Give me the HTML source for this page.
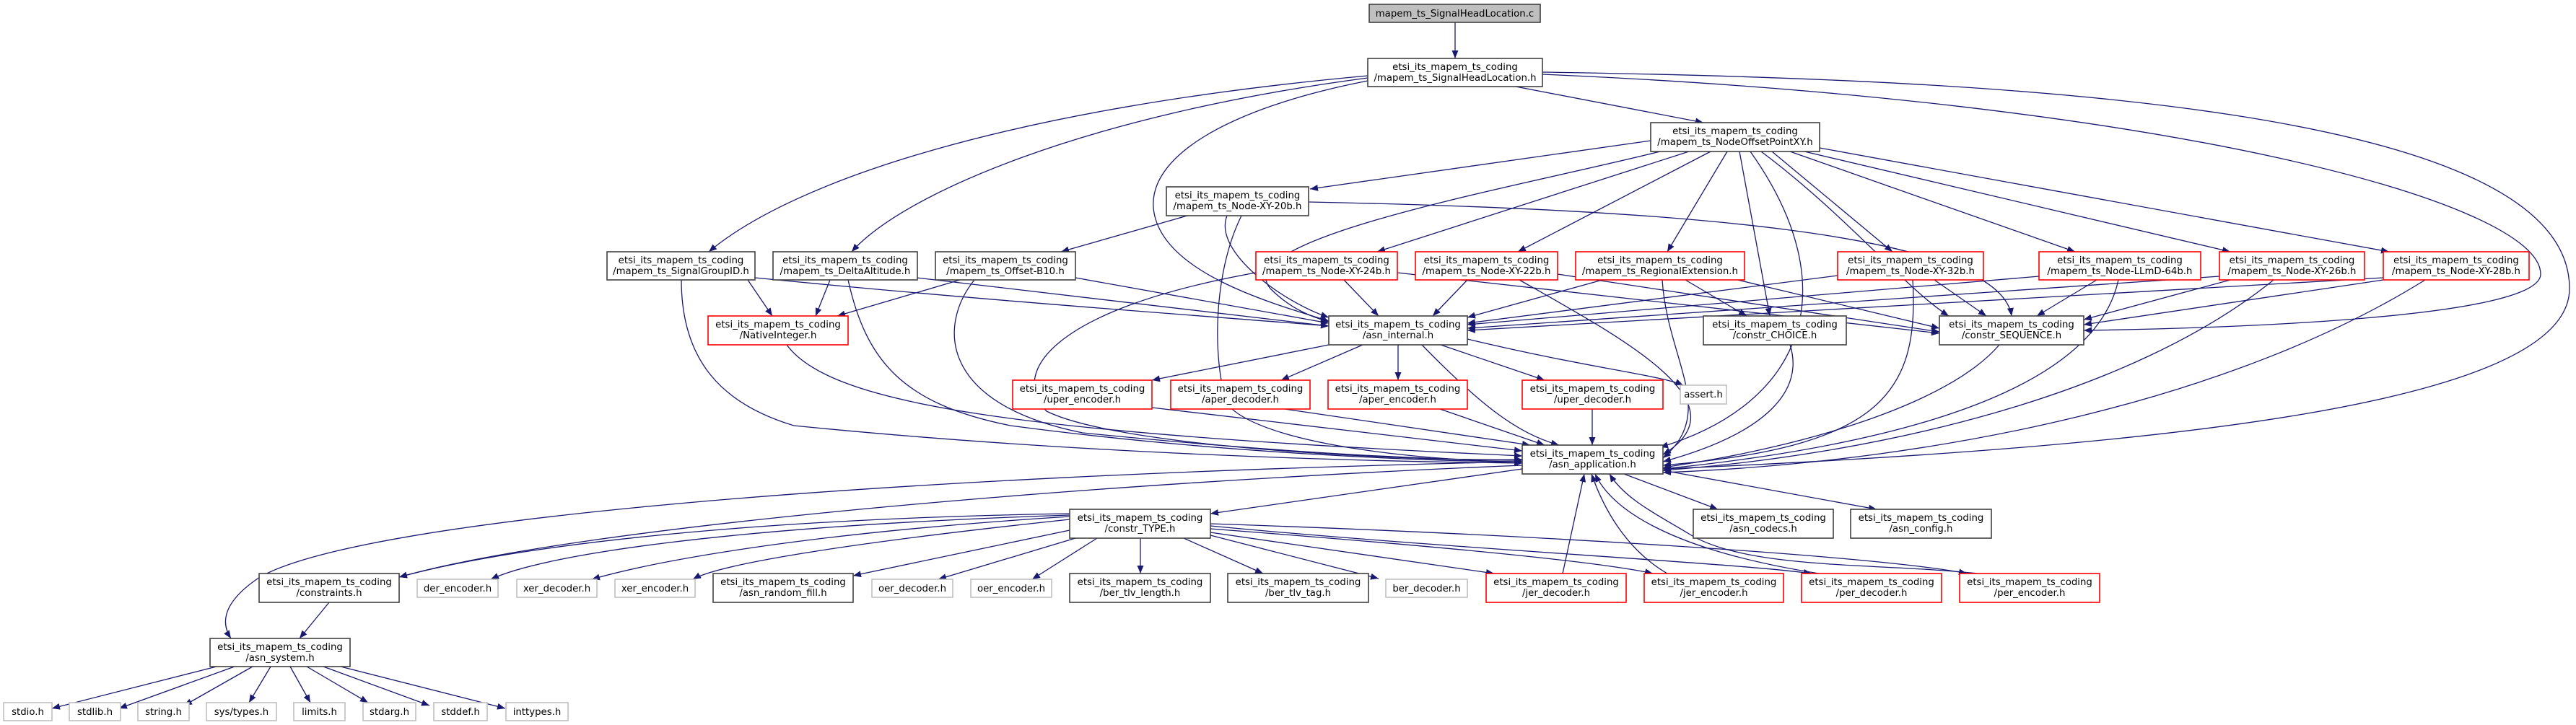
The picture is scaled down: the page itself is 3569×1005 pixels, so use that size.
<!DOCTYPE html>
<html><head><meta charset="utf-8"><style>
html,body{margin:0;padding:0;background:#fff;}
svg{display:block;}
text{font-family:"DejaVu Sans","Liberation Sans",sans-serif;font-size:13.3px;text-anchor:middle;fill:#000;}
.e path{fill:none;stroke:#191970;stroke-width:1.3;}
.b{fill:#fff;stroke:#404040;stroke-width:1.6;}
.r{fill:#fff;stroke:#ff0000;stroke-width:1.6;}
.g{fill:#fff;stroke:#bfbfbf;stroke-width:1.6;}
</style></head><body>
<svg width="3569" height="1005" viewBox="0 0 3569 1005" xmlns="http://www.w3.org/2000/svg">
<defs><marker id="a" markerWidth="12" markerHeight="10" refX="11" refY="4.5" orient="auto" markerUnits="userSpaceOnUse"><path d="M0,0 L11,4.5 L0,9 z" fill="#191970"/></marker></defs>
<g class="e" marker-end="url(#a)">
<path d="M2016,31 L2016,81" marker-end="url(#a)"/>
<path d="M2100,120 L2360,170" marker-end="url(#a)"/>
<path d="M1895,105 C1400,150 1100,250 982,349" marker-end="url(#a)"/>
<path d="M1895,108 C1500,160 1250,270 1180,349" marker-end="url(#a)"/>
<path d="M1895,112 C1700,150 1580,220 1600,300 C1620,380 1760,420 1841,445" marker-end="url(#a)"/>
<path d="M2137,100 C2800,110 3560,150 3560,400 C3560,560 3000,620 2304,650" marker-end="url(#a)"/>
<path d="M2137,103 C3000,140 3520,280 3520,380 C3520,440 3100,455 2887,458" marker-end="url(#a)"/>
<path d="M2287,195 L1815,262" marker-end="url(#a)"/>
<path d="M2300,210 C2100,260 1700,330 1760,400 C1790,430 1820,440 1841,446" marker-end="url(#a)"/>
<path d="M2340,210 L1908,349" marker-end="url(#a)"/>
<path d="M2370,210 L2103,349" marker-end="url(#a)"/>
<path d="M2393,210 L2310,349" marker-end="url(#a)"/>
<path d="M2410,210 L2452,438" marker-end="url(#a)"/>
<path d="M2425,210 C2560,400 2500,560 2300,620" marker-end="url(#a)"/>
<path d="M2440,210 C2560,300 2640,400 2700,438" marker-end="url(#a)"/>
<path d="M2455,210 L2622,349" marker-end="url(#a)"/>
<path d="M2480,210 L2875,349" marker-end="url(#a)"/>
<path d="M2500,210 L3090,349" marker-end="url(#a)"/>
<path d="M2521,205 L3310,349" marker-end="url(#a)"/>
<path d="M1645,299 L1470,349" marker-end="url(#a)"/>
<path d="M1700,299 C1680,350 1780,420 1841,440" marker-end="url(#a)"/>
<path d="M1720,299 C1680,380 1680,500 1700,560 C1750,620 2000,640 2109,640" marker-end="url(#a)"/>
<path d="M1813,280 C2300,290 2770,320 2787,438" marker-end="url(#a)"/>
<path d="M1036,388 L1070,438" marker-end="url(#a)"/>
<path d="M1046,385 C1400,420 1700,440 1841,452" marker-end="url(#a)"/>
<path d="M944,388 C944,500 1000,560 1100,590 C1500,630 1900,640 2109,642" marker-end="url(#a)"/>
<path d="M1150,388 L1130,438" marker-end="url(#a)"/>
<path d="M1270,385 L1841,452" marker-end="url(#a)"/>
<path d="M1175,388 C1200,500 1250,560 1400,590 C1700,630 2000,640 2109,640" marker-end="url(#a)"/>
<path d="M1330,388 L1160,438" marker-end="url(#a)"/>
<path d="M1490,385 L1841,448" marker-end="url(#a)"/>
<path d="M1350,388 C1300,450 1300,560 1500,600 C1800,630 2000,638 2109,638" marker-end="url(#a)"/>
<path d="M1090,478 C1150,560 1400,600 2109,632" marker-end="url(#a)"/>
<path d="M1862,388 L1910,438" marker-end="url(#a)"/>
<path d="M1936,378 L2687,462" marker-end="url(#a)"/>
<path d="M1740,378 C1450,430 1400,520 1450,570 C1550,620 1950,640 2109,637" marker-end="url(#a)"/>
<path d="M2033,388 L1985,438" marker-end="url(#a)"/>
<path d="M2158,380 L2687,460" marker-end="url(#a)"/>
<path d="M2105,388 C2250,470 2420,560 2304,630" marker-end="url(#a)"/>
<path d="M2220,388 L2033,440" marker-end="url(#a)"/>
<path d="M2335,388 L2420,438" marker-end="url(#a)"/>
<path d="M2395,385 L2687,455" marker-end="url(#a)"/>
<path d="M2303,388 C2310,500 2380,570 2304,635" marker-end="url(#a)"/>
<path d="M2546,382 L2033,448" marker-end="url(#a)"/>
<path d="M2680,388 L2752,438" marker-end="url(#a)"/>
<path d="M2650,388 C2660,550 2600,620 2304,645" marker-end="url(#a)"/>
<path d="M2825,383 L2033,450" marker-end="url(#a)"/>
<path d="M2905,388 L2822,438" marker-end="url(#a)"/>
<path d="M2935,388 C2900,550 2600,620 2304,650" marker-end="url(#a)"/>
<path d="M3075,383 L2033,455" marker-end="url(#a)"/>
<path d="M3090,388 L2887,443" marker-end="url(#a)"/>
<path d="M3150,388 C2950,550 2600,630 2304,652" marker-end="url(#a)"/>
<path d="M3302,385 L2033,458" marker-end="url(#a)"/>
<path d="M3302,388 L2887,450" marker-end="url(#a)"/>
<path d="M3360,388 C3100,550 2700,640 2304,655" marker-end="url(#a)"/>
<path d="M2480,478 C2500,540 2450,600 2304,640" marker-end="url(#a)"/>
<path d="M2770,478 C2700,560 2500,620 2304,648" marker-end="url(#a)"/>
<path d="M1841,478 L1596,527" marker-end="url(#a)"/>
<path d="M1888,478 L1775,527" marker-end="url(#a)"/>
<path d="M1937,478 L1937,527" marker-end="url(#a)"/>
<path d="M1996,478 L2140,527" marker-end="url(#a)"/>
<path d="M2033,470 C2200,510 2300,520 2332,534" marker-end="url(#a)"/>
<path d="M1970,478 C2050,560 2100,600 2160,617" marker-end="url(#a)"/>
<path d="M1596,565 L2109,625" marker-end="url(#a)"/>
<path d="M1780,567 L2120,617" marker-end="url(#a)"/>
<path d="M1995,567 L2140,617" marker-end="url(#a)"/>
<path d="M2206,567 L2206,617" marker-end="url(#a)"/>
<path d="M2109,650 L1677,712" marker-end="url(#a)"/>
<path d="M2250,657 L2380,706" marker-end="url(#a)"/>
<path d="M2304,652 L2600,706" marker-end="url(#a)"/>
<path d="M2109,640 C1200,660 500,720 360,800 C300,840 310,870 320,885" marker-end="url(#a)"/>
<path d="M2109,645 C1500,670 800,730 553,800" marker-end="url(#a)"/>
<path d="M1482,712 C1000,720 700,760 553,800" marker-end="url(#a)"/>
<path d="M1482,714 C1000,730 750,770 680,803" marker-end="url(#a)"/>
<path d="M1482,716 C1100,740 900,780 820,803" marker-end="url(#a)"/>
<path d="M1482,720 C1200,750 1000,780 960,803" marker-end="url(#a)"/>
<path d="M1482,735 L1182,798" marker-end="url(#a)"/>
<path d="M1490,746 L1300,803" marker-end="url(#a)"/>
<path d="M1520,746 L1430,803" marker-end="url(#a)"/>
<path d="M1580,746 L1580,795" marker-end="url(#a)"/>
<path d="M1640,746 L1750,795" marker-end="url(#a)"/>
<path d="M1677,742 L1910,802" marker-end="url(#a)"/>
<path d="M1677,738 L2070,795" marker-end="url(#a)"/>
<path d="M1677,733 C1900,750 2200,775 2290,795" marker-end="url(#a)"/>
<path d="M1677,729 C2000,760 2400,780 2510,795" marker-end="url(#a)"/>
<path d="M1677,726 C2100,740 2600,770 2725,795" marker-end="url(#a)"/>
<path d="M2165,795 L2195,657" marker-end="url(#a)"/>
<path d="M2310,795 C2250,760 2220,700 2205,657" marker-end="url(#a)"/>
<path d="M2520,795 C2300,760 2230,700 2210,657" marker-end="url(#a)"/>
<path d="M2740,795 C2600,780 2420,790 2340,740 C2290,710 2250,690 2230,657" marker-end="url(#a)"/>
<path d="M456,835 L415,885" marker-end="url(#a)"/>
<path d="M300,924 L72,982" marker-end="url(#a)"/>
<path d="M325,924 L165,982" marker-end="url(#a)"/>
<path d="M350,924 L255,978" marker-end="url(#a)"/>
<path d="M375,924 L345,974" marker-end="url(#a)"/>
<path d="M402,924 L430,974" marker-end="url(#a)"/>
<path d="M425,924 L510,974" marker-end="url(#a)"/>
<path d="M448,924 L595,978" marker-end="url(#a)"/>
<path d="M472,924 L700,982" marker-end="url(#a)"/>
</g>
<g>
<rect x="1897" y="6" width="237" height="25" fill="#bfbfbf" stroke="#404040" stroke-width="1.6"/><text x="2015.5" y="23">mapem_ts_SignalHeadLocation.c</text>
<rect class="b" x="1895" y="81" width="242" height="39"/><text x="2016" y="97">etsi_its_mapem_ts_coding</text><text x="2016" y="112">/mapem_ts_SignalHeadLocation.h</text>
<rect class="b" x="2287" y="170" width="234" height="40"/><text x="2404" y="186">etsi_its_mapem_ts_coding</text><text x="2404" y="201">/mapem_ts_NodeOffsetPointXY.h</text>
<rect class="b" x="1616" y="259" width="197" height="40"/><text x="1714.5" y="275">etsi_its_mapem_ts_coding</text><text x="1714.5" y="290">/mapem_ts_Node-XY-20b.h</text>
<rect class="b" x="841" y="349" width="205" height="39"/><text x="943.5" y="365">etsi_its_mapem_ts_coding</text><text x="943.5" y="380">/mapem_ts_SignalGroupID.h</text>
<rect class="b" x="1071" y="349" width="200" height="39"/><text x="1171" y="365">etsi_its_mapem_ts_coding</text><text x="1171" y="380">/mapem_ts_DeltaAltitude.h</text>
<rect class="b" x="1296" y="349" width="194" height="39"/><text x="1393" y="365">etsi_its_mapem_ts_coding</text><text x="1393" y="380">/mapem_ts_Offset-B10.h</text>
<rect class="r" x="1740" y="349" width="196" height="39"/><text x="1838" y="365">etsi_its_mapem_ts_coding</text><text x="1838" y="380">/mapem_ts_Node-XY-24b.h</text>
<rect class="r" x="1961" y="349" width="197" height="39"/><text x="2059.5" y="365">etsi_its_mapem_ts_coding</text><text x="2059.5" y="380">/mapem_ts_Node-XY-22b.h</text>
<rect class="r" x="2183" y="349" width="234" height="39"/><text x="2300" y="365">etsi_its_mapem_ts_coding</text><text x="2300" y="380">/mapem_ts_RegionalExtension.h</text>
<rect class="r" x="2546" y="349" width="202" height="39"/><text x="2647" y="365">etsi_its_mapem_ts_coding</text><text x="2647" y="380">/mapem_ts_Node-XY-32b.h</text>
<rect class="r" x="2825" y="349" width="224" height="39"/><text x="2937" y="365">etsi_its_mapem_ts_coding</text><text x="2937" y="380">/mapem_ts_Node-LLmD-64b.h</text>
<rect class="r" x="3075" y="349" width="201" height="39"/><text x="3175.5" y="365">etsi_its_mapem_ts_coding</text><text x="3175.5" y="380">/mapem_ts_Node-XY-26b.h</text>
<rect class="r" x="3302" y="349" width="202" height="39"/><text x="3403" y="365">etsi_its_mapem_ts_coding</text><text x="3403" y="380">/mapem_ts_Node-XY-28b.h</text>
<rect class="r" x="981" y="438" width="194" height="40"/><text x="1078" y="454">etsi_its_mapem_ts_coding</text><text x="1078" y="469">/NativeInteger.h</text>
<rect class="b" x="1841" y="438" width="192" height="40"/><text x="1937" y="454">etsi_its_mapem_ts_coding</text><text x="1937" y="469">/asn_internal.h</text>
<rect class="b" x="2360" y="438" width="198" height="40"/><text x="2459" y="454">etsi_its_mapem_ts_coding</text><text x="2459" y="469">/constr_CHOICE.h</text>
<rect class="b" x="2687" y="438" width="200" height="40"/><text x="2787" y="454">etsi_its_mapem_ts_coding</text><text x="2787" y="469">/constr_SEQUENCE.h</text>
<rect class="r" x="1403" y="527" width="193" height="40"/><text x="1499.5" y="543">etsi_its_mapem_ts_coding</text><text x="1499.5" y="558">/uper_encoder.h</text>
<rect class="r" x="1622" y="527" width="193" height="40"/><text x="1718.5" y="543">etsi_its_mapem_ts_coding</text><text x="1718.5" y="558">/aper_decoder.h</text>
<rect class="r" x="1840" y="527" width="193" height="40"/><text x="1936.5" y="543">etsi_its_mapem_ts_coding</text><text x="1936.5" y="558">/aper_encoder.h</text>
<rect class="r" x="2109" y="527" width="195" height="40"/><text x="2206.5" y="543">etsi_its_mapem_ts_coding</text><text x="2206.5" y="558">/uper_decoder.h</text>
<rect class="g" x="2328" y="534" width="64" height="26"/><text x="2360" y="551">assert.h</text>
<rect class="b" x="2109" y="617" width="195" height="40"/><text x="2206.5" y="633">etsi_its_mapem_ts_coding</text><text x="2206.5" y="648">/asn_application.h</text>
<rect class="b" x="1482" y="706" width="195" height="40"/><text x="1579.5" y="722">etsi_its_mapem_ts_coding</text><text x="1579.5" y="737">/constr_TYPE.h</text>
<rect class="b" x="2346" y="706" width="194" height="40"/><text x="2443" y="722">etsi_its_mapem_ts_coding</text><text x="2443" y="737">/asn_codecs.h</text>
<rect class="b" x="2564" y="706" width="195" height="40"/><text x="2661.5" y="722">etsi_its_mapem_ts_coding</text><text x="2661.5" y="737">/asn_config.h</text>
<rect class="b" x="359" y="795" width="194" height="40"/><text x="456" y="811">etsi_its_mapem_ts_coding</text><text x="456" y="826">/constraints.h</text>
<rect class="b" x="988" y="795" width="194" height="40"/><text x="1085" y="811">etsi_its_mapem_ts_coding</text><text x="1085" y="826">/asn_random_fill.h</text>
<rect class="b" x="1482" y="795" width="195" height="40"/><text x="1579.5" y="811">etsi_its_mapem_ts_coding</text><text x="1579.5" y="826">/ber_tlv_length.h</text>
<rect class="b" x="1701" y="795" width="195" height="40"/><text x="1798.5" y="811">etsi_its_mapem_ts_coding</text><text x="1798.5" y="826">/ber_tlv_tag.h</text>
<rect class="r" x="2059" y="795" width="194" height="40"/><text x="2156" y="811">etsi_its_mapem_ts_coding</text><text x="2156" y="826">/jer_decoder.h</text>
<rect class="r" x="2278" y="795" width="193" height="40"/><text x="2374.5" y="811">etsi_its_mapem_ts_coding</text><text x="2374.5" y="826">/jer_encoder.h</text>
<rect class="r" x="2496" y="795" width="194" height="40"/><text x="2593" y="811">etsi_its_mapem_ts_coding</text><text x="2593" y="826">/per_decoder.h</text>
<rect class="r" x="2715" y="795" width="194" height="40"/><text x="2812" y="811">etsi_its_mapem_ts_coding</text><text x="2812" y="826">/per_encoder.h</text>
<rect class="g" x="578" y="803" width="112" height="25"/><text x="634" y="820">der_encoder.h</text>
<rect class="g" x="716" y="803" width="111" height="25"/><text x="771.5" y="820">xer_decoder.h</text>
<rect class="g" x="852" y="803" width="111" height="25"/><text x="907.5" y="820">xer_encoder.h</text>
<rect class="g" x="1208" y="803" width="112" height="25"/><text x="1264" y="820">oer_decoder.h</text>
<rect class="g" x="1345" y="803" width="112" height="25"/><text x="1401" y="820">oer_encoder.h</text>
<rect class="g" x="1920" y="803" width="113" height="25"/><text x="1976.5" y="820">ber_decoder.h</text>
<rect class="b" x="291" y="885" width="194" height="39"/><text x="388" y="901">etsi_its_mapem_ts_coding</text><text x="388" y="916">/asn_system.h</text>
<rect class="g" x="5" y="974" width="67" height="25"/><text x="38.5" y="991">stdio.h</text>
<rect class="g" x="96" y="974" width="71" height="25"/><text x="131.5" y="991">stdlib.h</text>
<rect class="g" x="191" y="974" width="71" height="25"/><text x="226.5" y="991">string.h</text>
<rect class="g" x="286" y="974" width="97" height="25"/><text x="334.5" y="991">sys/types.h</text>
<rect class="g" x="407" y="974" width="71" height="25"/><text x="442.5" y="991">limits.h</text>
<rect class="g" x="503" y="974" width="73" height="25"/><text x="539.5" y="991">stdarg.h</text>
<rect class="g" x="601" y="974" width="74" height="25"/><text x="638" y="991">stddef.h</text>
<rect class="g" x="701" y="974" width="86" height="25"/><text x="744" y="991">inttypes.h</text>
</g>
</svg>
</body></html>
